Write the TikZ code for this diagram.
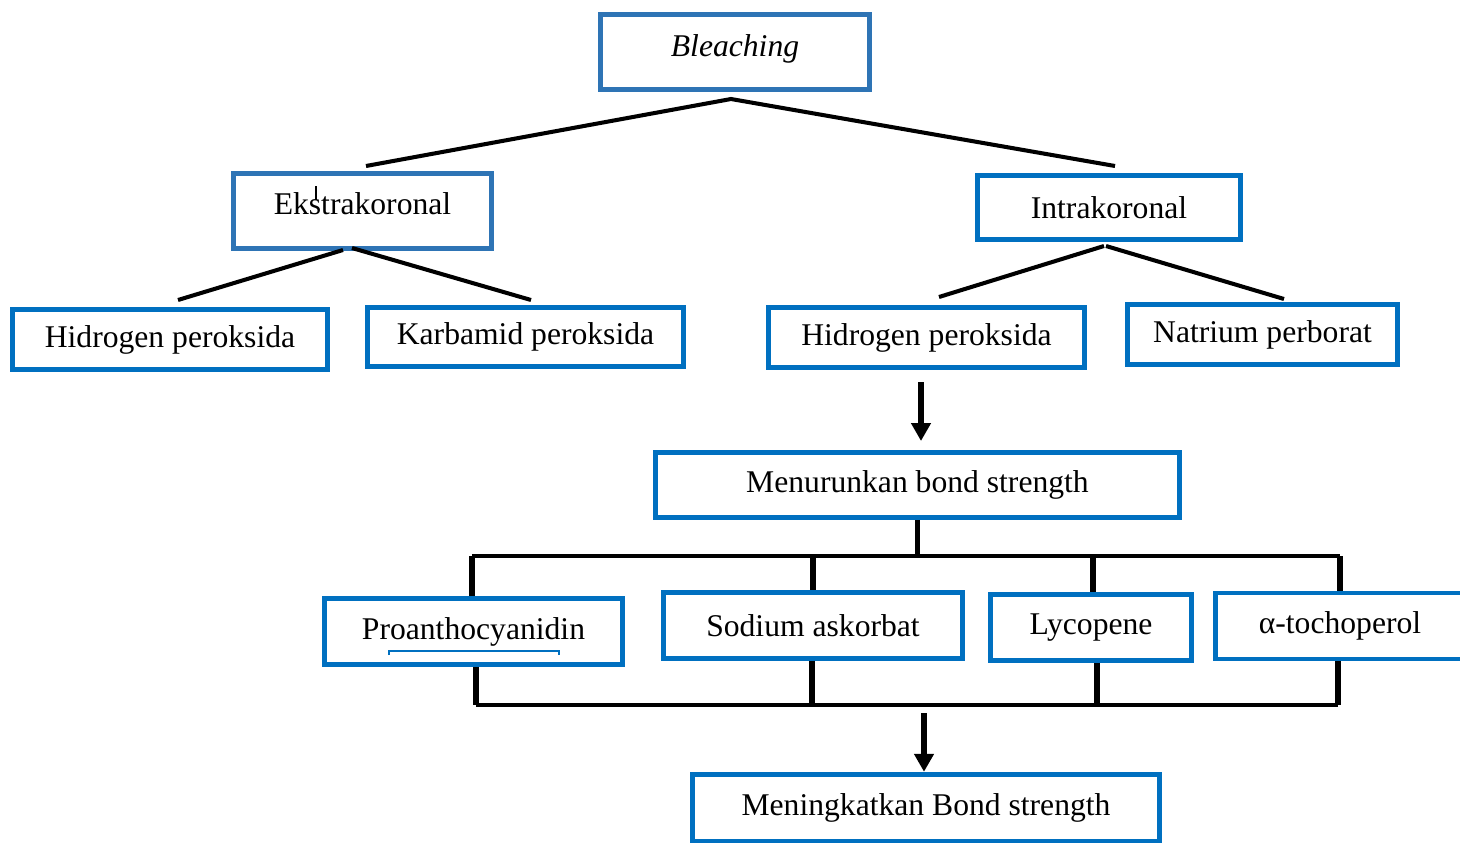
\documentclass[tikz,border=0pt]{standalone}
\usepackage{fontspec}
\setmainfont{Liberation Serif}
\usetikzlibrary{arrows.meta, positioning}

\definecolor{biruA}{RGB}{46,116,181}
\definecolor{biruB}{RGB}{0,112,192}

\begin{document}
\begin{tikzpicture}[x=0.02cm, y=-0.02cm,
    >={Triangle[length=0.36cm, width=0.38cm]},
    kotak/.style={draw=biruB, line width=2.8pt, fill=white, inner sep=0pt,
        font=\fontsize{18}{21}\selectfont},
    kotakA/.style={kotak, draw=biruA},
    garis/.style={line width=2.3pt},
    tiang/.style={line width=3.4pt}]

    \useasboundingbox (0,0) rectangle (1460,842);

    % =================================================================
    % 1. KOTAK-KOTAK UTAMA
    % =================================================================
    \node[kotakA, minimum width=5.38cm, minimum height=1.5cm, text depth=7.5pt] (bleach) at (735,52) {\textit{Bleaching}};

    \node[kotakA, minimum width=5.16cm, minimum height=1.5cm, text depth=8pt] (ekstra) at (362.5,211) {Ekstrakoronal};
    \node[kotak, minimum width=5.26cm, minimum height=1.28cm] (intra) at (1109,207.5) {Intrakoronal};

    \node[kotak, minimum width=6.3cm, minimum height=1.2cm] (hp1) at (170,339.5) {Hidrogen peroksida};
    \node[kotak, minimum width=6.32cm, minimum height=1.18cm] (karb) at (525.5,337) {Karbamid peroksida};
    \node[kotak, minimum width=6.32cm, minimum height=1.2cm] (hp2) at (926.5,337.5) {Hidrogen peroksida};
    \node[kotak, minimum width=5.4cm, minimum height=1.2cm] (natr) at (1262.5,334.5) {Natrium perborat};

    \node[kotak, minimum width=10.48cm, minimum height=1.3cm] (menur) at (917.5,485) {Menurunkan bond strength};

    \node[kotak, minimum width=5.96cm, minimum height=1.32cm] (proan) at (473.5,631.5) {Proanthocyanidin};
    \node[kotak, minimum width=5.98cm, minimum height=1.32cm] (sodium) at (813,625.5) {Sodium askorbat};
    \node[kotak, minimum width=4.02cm, minimum height=1.32cm] (lyco) at (1091,627.5) {Lycopene};
    \node[kotak, minimum width=4.99cm, minimum height=1.32cm] (toco) at (1340,626) {α-tochoperol};

    \node[kotak, minimum width=9.34cm, minimum height=1.35cm] (mening) at (926,808) {Meningkatkan Bond strength};

    % =================================================================
    % 2. TITIK-TITIK CABANG
    % =================================================================
    \coordinate (bl-a) at (731,99);
    \coordinate (ek-a) at (366,166);
    \coordinate (in-a) at (1115,166);

    \coordinate (ek-b1) at (343,250);
    \coordinate (ek-b2) at (352,248);
    \coordinate (hp1-a) at (178,300);
    \coordinate (karb-a) at (531,300);

    \coordinate (in-b1) at (1104,246);
    \coordinate (in-b2) at (1106,246);
    \coordinate (hp2-a) at (939,297);
    \coordinate (natr-a) at (1284,299);

    % garis cabang atas dan bawah
    \coordinate (ba-1) at (472,556);
    \coordinate (ba-2) at (813,556);
    \coordinate (ba-3) at (1093,556);
    \coordinate (ba-4) at (1340,556);
    \coordinate (bb-1) at (476,705);
    \coordinate (bb-2) at (812,705);
    \coordinate (bb-3) at (1097,705);
    \coordinate (bb-4) at (1338,705);

    % pangkal panah
    \coordinate (pa-1) at (921,382);
    \coordinate (pa-1u) at (921,441);
    \coordinate (pa-2) at (924,713);

    % =================================================================
    % 3. GARIS PENGHUBUNG
    % =================================================================
    \draw[garis] (ek-a) -- (bl-a) -- (in-a);

    \draw[garis] (ek-b1) -- (hp1-a);
    \draw[garis] (ek-b2) -- (karb-a);
    \draw[garis] (in-b1) -- (hp2-a);
    \draw[garis] (in-b2) -- (natr-a);

    \draw[tiang, ->] (pa-1) -- (pa-1u);

    % cabang ke empat bahan
    \draw[tiang] (menur.south) -- (menur.south |- ba-1);
    \draw[garis] (ba-1) -- (ba-4);
    \draw[tiang] (ba-1) -- (ba-1 |- proan.north);
    \draw[tiang] (ba-2) -- (ba-2 |- sodium.north);
    \draw[tiang] (ba-3) -- (ba-3 |- lyco.north);
    \draw[tiang] (ba-4) -- (ba-4 |- toco.north);

    % gabungan ke bawah
    \draw[tiang] (bb-1 |- proan.south) -- (bb-1);
    \draw[tiang] (bb-2 |- sodium.south) -- (bb-2);
    \draw[tiang] (bb-3 |- lyco.south) -- (bb-3);
    \draw[tiang] (bb-4 |- toco.south) -- (bb-4);
    \draw[garis] (bb-1) -- (bb-4);

    \draw[tiang, ->] (pa-2) -- (pa-2 |- mening.north);

    % =================================================================
    % 4. TANDA KECIL
    % =================================================================
    \draw[line width=1.4pt] (316,186) -- (316,200);
    \draw[biruB, line width=1.2pt] (389,655) -- (389,651) -- (559,651) -- (559,655);

\end{tikzpicture}
\end{document}
